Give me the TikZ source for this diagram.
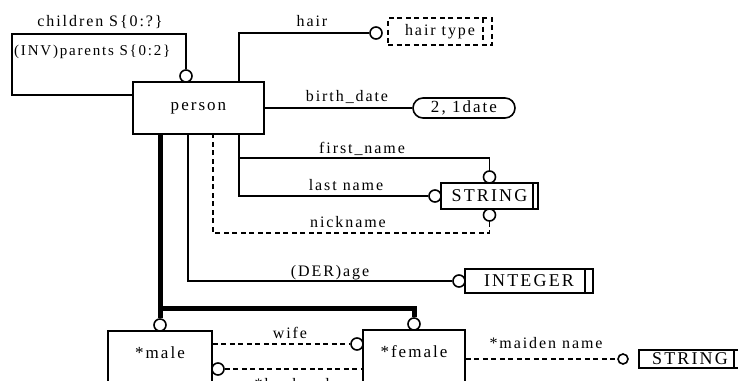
\documentclass[tikz,border=0pt]{standalone}
\usepackage{fontspec}
\setmainfont{Liberation Serif}[LetterSpace=12]
\usetikzlibrary{shapes.misc}
\tikzset{
  thin line/.style={line width=1.6pt},
  heavy line/.style={line width=5pt},
  dashline/.style={line width=1.6pt, dash pattern=on 5pt off 3.5pt},
  entity/.style={draw, line width=1.6pt, rectangle, inner sep=0pt, font=\fontsize{17}{17}\selectfont},
  typebox/.style={draw, line width=1.6pt, rectangle, inner sep=0pt, font=\fontsize{18}{18}\selectfont,
    path picture={\draw[line width=1.6pt] ([xshift=-#1]path picture bounding box.north east) -- ([xshift=-#1]path picture bounding box.south east);}},
  ring/.style={draw, line width=1.6pt, circle, fill=white, minimum size=12pt, inner sep=0pt},
  lbl/.style={anchor=base, inner sep=0pt, font=\fontsize{16}{16}\selectfont},
}
\begin{document}
\begin{tikzpicture}[x=1pt,y=-1pt]
\useasboundingbox (0,0) rectangle (738,380);

% entities
\node[entity, minimum width=131pt, minimum height=52pt] (person) at (198.5,108) {person};
\node[entity, minimum width=104pt, minimum height=69pt] (male) at (160,365.5) {\raisebox{7.5pt}[0pt][0pt]{*male}};
\node[entity, minimum width=102pt, minimum height=70pt] (female) at (414,365) {\raisebox{7.5pt}[0pt][0pt]{*female}};

% value types
\node[draw, dash pattern=on 5pt off 3.5pt, line width=1.5pt, minimum width=104pt, minimum height=27pt, inner sep=0pt,
  font=\fontsize{16}{16}\selectfont,
  path picture={\draw[dash pattern=on 5pt off 3.5pt, line width=1.5pt] ([xshift=-9pt]path picture bounding box.north east) -- ([xshift=-9pt]path picture bounding box.south east);}]
  (hairtype) at (440,31.5) {hair type\hspace{8pt}};
\node[draw, line width=1.6pt, rounded rectangle, minimum width=102pt, minimum height=20pt, inner sep=0pt,
  font=\fontsize{17}{17}\selectfont] (bdate) at (464,108) {2, 1date};
\node[typebox=5pt, minimum width=97pt, minimum height=26pt] (str1) at (489.5,196) {STRING\hspace{4pt}};
\node[typebox=8pt, minimum width=128pt, minimum height=24pt] (int) at (529,281) {INTEGER\hspace{6pt}};
\node[typebox=7pt, minimum width=102pt, minimum height=18pt] (str2) at (690,359) {STRING\hspace{6pt}};

% rings
\node[ring] (pr) at (186,76) {};
\node[ring] (hr) at (376,33) {};
\node[ring] (ft) at (489.5,177) {};
\node[ring] (ln) at (435,196) {};
\node[ring] (nk) at (489.5,215) {};
\node[ring] (ag) at (459,281) {};
\node[ring] (mr) at (160,325) {};
\node[ring] (fr) at (414,324) {};
\node[ring] (wr) at (357,344) {};
\node[ring] (hbr) at (218,369) {};
\node[ring, minimum size=10pt] (mn) at (623,359) {};

% bend points
\coordinate (loopTL) at (12,34);
\coordinate (loopBL) at (12,95);
\coordinate (fnjoin) at (238,158);
\coordinate (nkcorner) at (213,233);
\coordinate (isajoin) at (160,308);

% connectors
\draw[thin line] (pr.north) |- (loopTL) -- (loopBL) -- (loopBL -| person.west);
\draw[thin line] (hr.west) -| ([xshift=-26pt]person.north east);
\draw[thin line] (person.east) -- (bdate.west);
\draw[thin line] (ln.west) -| ([xshift=-26pt]person.south east);
\draw[thin line] (ft.north) |- (fnjoin);
\draw[dashline] (nk.south) |- (nkcorner) -- (nkcorner |- person.south);
\draw[thin line] (ag.west) -| ([xshift=-77pt]person.south east);
\draw[heavy line] (mr.north) -- (mr.north |- person.south);
\draw[heavy line] (fr.north) |- (isajoin);
\draw[dashline] (male.east |- wr.west) -- (wr.west);
\draw[dashline] (hbr.east) -- (hbr.east -| female.west);
\draw[dashline] (female.east |- mn.west) -- (mn.west);

% connector labels
\node[lbl] at (100,27) {children S\{0:?\}};
\node[lbl, anchor=base west, font=\fontsize{15}{15}\selectfont] at (14,55) {(INV)parents S\{0:2\}};
\node[lbl] at (312,27) {hair};
\node[lbl] at (347,101) {birth\_date};
\node[lbl] at (362,153) {first\_name};
\node[lbl] at (346,190) {last name};
\node[lbl] at (348,227) {nickname};
\node[lbl] at (330,276) {(DER)age};
\node[lbl] at (290,338) {wife};
\node[lbl] at (292,389) {*husband};
\node[lbl] at (546,348) {*maiden name};
\end{tikzpicture}
\end{document}
